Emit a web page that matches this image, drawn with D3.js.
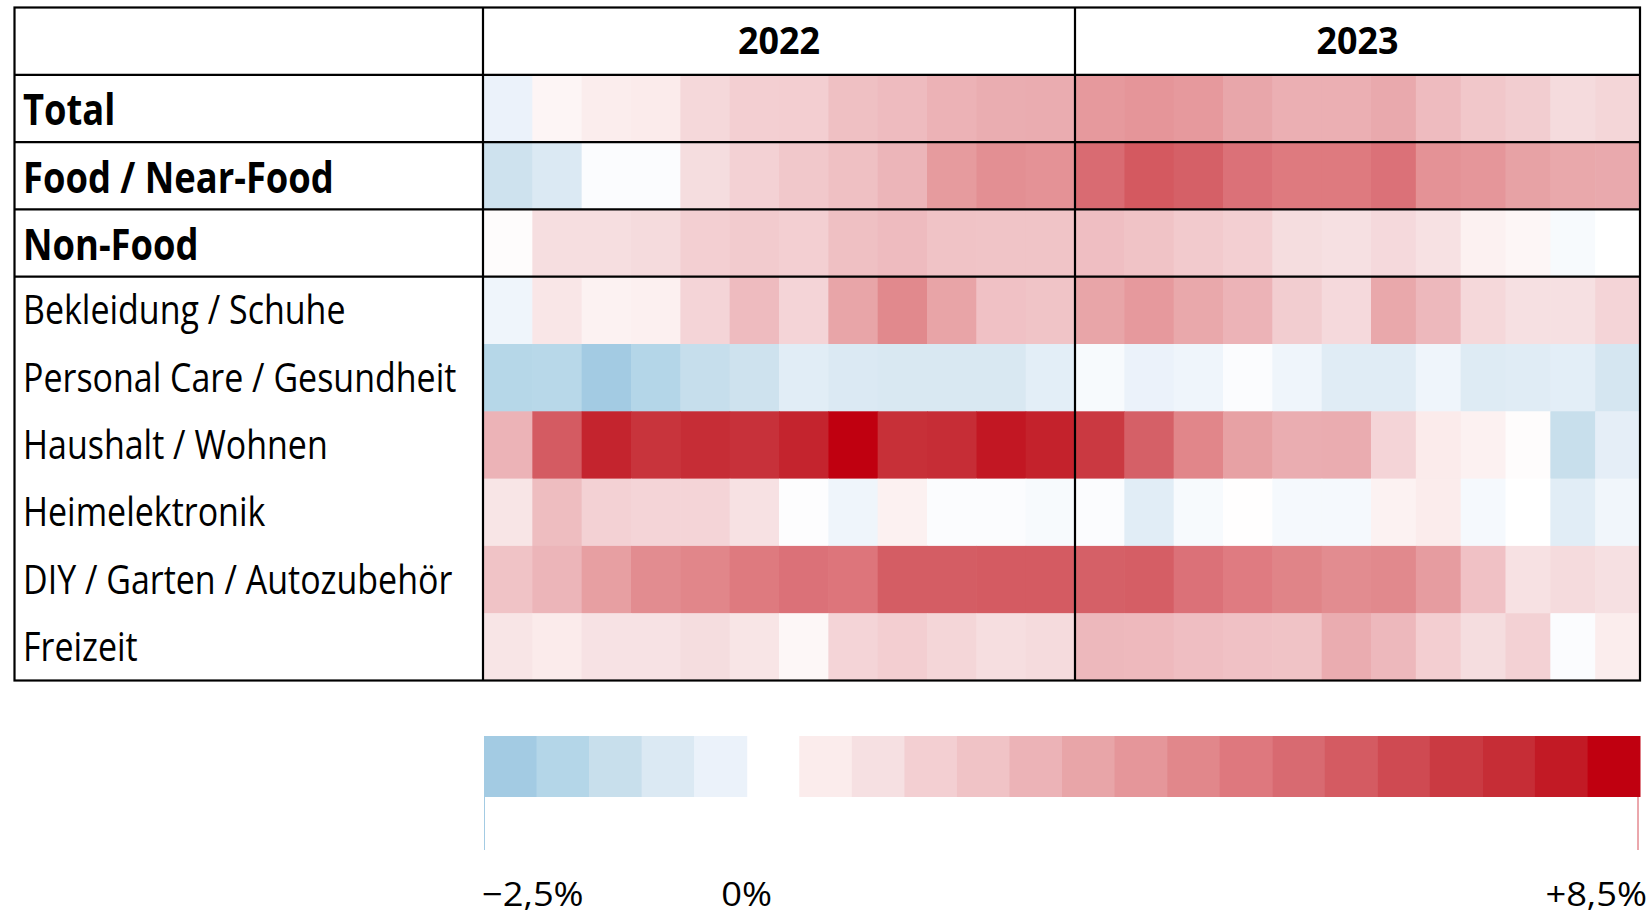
<!DOCTYPE html>
<html>
<head>
<meta charset="utf-8">
<script src="https://cdn.jsdelivr.net/npm/d3@7"></script>
<style>
  body { margin: 0; background: #fff; }
  svg text { font-family: "Open Sans", "Noto Sans", sans-serif; fill: #000; }
</style>
</head>
<body>
<div id="chart"></div>
<script>
// categories (rows) and columns
var categories = ["Total", "Food / Near-Food", "Non-Food", "Bekleidung / Schuhe",
  "Personal Care / Gesundheit", "Haushalt / Wohnen", "Heimelektronik",
  "DIY / Garten / Autozubehör", "Freizeit"];
var boldRows = ["Total", "Food / Near-Food", "Non-Food"];
var years = ["2022", "2023"];
var months = ["1", "2", "3", "4", "5", "6", "7", "8", "9", "10", "11", "12"];

// monthly values in %, Jan 2022 .. Dec 2023
var valTotal = [-0.25, 0.4, 0.7, 0.8, 1.5, 1.75, 1.8, 2.35, 2.5, 2.8, 2.95, 3.0,
  3.65, 3.8, 3.65, 3.2, 2.9, 2.9, 3.1, 2.5, 2.1, 1.85, 1.4, 1.55];
var valFood = [-1.1, -0.75, -0.05, -0.05, 1.35, 1.7, 2.05, 2.35, 2.7, 3.6, 4.0, 3.9,
  5.2, 5.8, 5.6, 5.0, 4.7, 4.7, 5.0, 3.9, 3.75, 3.35, 3.15, 3.1];
var valNonFood = [0.1, 1.3, 1.3, 1.4, 1.75, 1.9, 1.75, 2.35, 2.5, 2.25, 2.2, 2.2,
  2.4, 2.25, 1.95, 1.75, 1.35, 1.25, 1.45, 1.2, 0.55, 0.35, -0.1, 0.0];
var valBekleidung = [-0.2, 1.0, 0.5, 0.6, 1.6, 2.5, 1.6, 3.25, 4.2, 3.3, 2.3, 2.2,
  3.25, 3.65, 3.15, 2.75, 1.85, 1.45, 3.15, 2.6, 1.5, 1.25, 1.25, 1.6];
var valPersonal = [-1.7, -1.65, -2.25, -1.75, -1.3, -1.1, -0.55, -0.75, -0.8, -0.8, -0.8, -0.5,
  -0.1, -0.25, -0.2, -0.05, -0.2, -0.6, -0.6, -0.2, -0.65, -0.6, -0.5, -0.9];
var valHaushalt = [2.75, 5.75, 7.5, 7.0, 7.25, 7.1, 7.5, 8.4, 7.15, 7.25, 7.8, 7.55,
  6.8, 5.6, 4.3, 3.4, 2.95, 3.0, 1.6, 0.8, 0.55, 0.1, -1.25, -0.45];
var valHeimelektronik = [1.05, 2.45, 1.7, 1.6, 1.6, 1.2, -0.03, -0.2, 0.55, -0.05, -0.05, -0.1,
  -0.05, -0.55, -0.1, 0.05, -0.12, -0.12, 0.5, 0.75, -0.12, 0.0, -0.55, -0.18];
var valDiy = [2.25, 2.7, 3.45, 4.1, 4.3, 4.7, 5.0, 4.85, 5.7, 5.7, 5.75, 5.75,
  5.6, 5.65, 5.0, 4.65, 4.35, 4.1, 4.2, 3.55, 2.3, 1.2, 1.4, 1.25];
var valFreizeit = [1.05, 0.8, 1.15, 1.15, 1.35, 1.05, 0.3, 1.6, 1.8, 1.55, 1.3, 1.4,
  2.6, 2.55, 2.4, 2.3, 2.25, 3.0, 2.6, 1.8, 1.35, 1.7, -0.05, 0.7];

var rowValues = [valTotal, valFood, valNonFood, valBekleidung, valPersonal,
  valHaushalt, valHeimelektronik, valDiy, valFreizeit];

// legend
var legendMin = -2.5, legendMax = 8.5, legendStep = 0.5;
var legendTicks = [-2.5, 0, 8.5];
var legendLabels = ["\u22122,5%", "0%", "+8,5%"];

// colour ramp (value -> colour)
var colorStops = [-2.25, -1.75, -1.25, -0.75, -0.25, 0,
  0.75, 1.25, 1.75, 2.25, 2.75, 3.25, 3.75, 4.25, 4.75, 5.25, 5.75, 6.25, 6.75, 7.25, 7.75, 8.25];
var colorRange = ["#a3cbe3", "#b4d6e8", "#c8dfec", "#dbe9f3", "#ebf2fa", "#ffffff",
  "#fbecec", "#f6e0e2", "#f3cfd2", "#f0c3c6", "#ecb3b7", "#e8a5a8", "#e5969a", "#e1878b",
  "#de787e", "#d86a71", "#d45b62", "#cf4a52", "#ca3a42", "#c62d36", "#c21a25", "#c00010"];

var W = 1649, H = 918;
var tbl = { left: 14.5, label: 483, split: 1075, right: 1640, top: 7.5, bottom: 680.5 };

var color = d3.scaleLinear().domain(colorStops).range(colorRange).clamp(true);

var yScale = d3.scaleBand().domain(["header"].concat(categories)).range([tbl.top, tbl.bottom]);
// column index (0..24) -> x ; the 2023 half-years are not quite equal in the original
var xScale = d3.scaleLinear().domain([0, 12, 18, 24]).range([tbl.label, tbl.split, 1371, tbl.right]);

var svg = d3.select("#chart").append("svg").attr("width", W).attr("height", H);

// cells
var cells = [];
categories.forEach(function (cat, r) {
  rowValues[r].forEach(function (v, i) {
    cells.push({ cat: cat, col: i, year: years[Math.floor(i / 12)], month: months[i % 12], value: v });
  });
});

svg.append("g").selectAll("rect").data(cells).enter().append("rect")
  .attr("x", function (d) { return xScale(d.col); })
  .attr("y", function (d) { return yScale(d.cat); })
  .attr("width", function (d) { return xScale(d.col + 1) - xScale(d.col) + 0.6; })
  .attr("height", yScale.bandwidth() + 0.6)
  .attr("fill", function (d) { return color(d.value); });

// grid lines
var grid = svg.append("g").attr("stroke", "#000").attr("stroke-width", 2.2).attr("fill", "none");
grid.append("rect")
  .attr("x", tbl.left).attr("y", tbl.top)
  .attr("width", tbl.right - tbl.left).attr("height", tbl.bottom - tbl.top);
[tbl.label, tbl.split].forEach(function (x) {
  grid.append("line").attr("x1", x).attr("x2", x).attr("y1", tbl.top).attr("y2", tbl.bottom);
});
boldRows.concat([categories[boldRows.length]]).forEach(function (cat) {
  var y = yScale(cat);
  grid.append("line").attr("x1", tbl.left).attr("x2", tbl.right).attr("y1", y).attr("y2", y);
});

// header
var headerMid = yScale("header") + yScale.bandwidth() / 2;
years.forEach(function (yr, k) {
  var cx = (xScale(k * 12) + xScale(k * 12 + 12)) / 2;
  svg.append("text")
    .attr("transform", "translate(" + cx + "," + (headerMid + 13) + ") scale(0.97,1)")
    .attr("text-anchor", "middle")
    .attr("font-size", 37).attr("font-weight", 700)
    .text(yr);
});

// row labels
categories.forEach(function (cat) {
  var bold = boldRows.indexOf(cat) >= 0;
  var mid = yScale(cat) + yScale.bandwidth() / 2;
  svg.append("text")
    .attr("transform", "translate(23," + (mid + (bold ? 17 : 14)) + ") scale(" + (bold ? 0.845 : 0.86) + ",1)")
    .attr("font-size", bold ? 43 : 39.5)
    .attr("font-weight", bold ? 700 : 400)
    .text(cat);
});

// legend
var lx = d3.scaleLinear().domain([legendMin, legendMax]).range([484, 1640]);
var legTop = 736, legBottom = 797;
var bins = d3.range(legendMin, legendMax, legendStep).filter(function (b) { return b !== 0; });
svg.append("g").selectAll("rect").data(bins).enter().append("rect")
  .attr("x", function (d) { return lx(d); })
  .attr("y", legTop)
  .attr("width", lx(legendStep) - lx(0) + 0.5)
  .attr("height", legBottom - legTop)
  .attr("fill", function (d) { return color(d + legendStep / 2); });

svg.append("line").attr("x1", lx(legendMin) + 0.5).attr("x2", lx(legendMin) + 0.5)
  .attr("y1", legBottom).attr("y2", 850).attr("stroke", "#a3cbe3").attr("stroke-width", 1);
svg.append("line").attr("x1", lx(legendMax) - 2).attr("x2", lx(legendMax) - 2)
  .attr("y1", legBottom).attr("y2", 850).attr("stroke", "#d8505a").attr("stroke-width", 1);

legendTicks.forEach(function (t, i) {
  var last = legendTicks.length - 1;
  var anchor = i === 0 ? "start" : (i === last ? "end" : "middle");
  var x = lx(t) + (i === 0 ? -2 : (i === last ? 7 : 0));
  svg.append("text")
    .attr("transform", "translate(" + x + ",906) scale(1.1,1)")
    .attr("text-anchor", anchor)
    .attr("font-size", 33)
    .text(legendLabels[i]);
});
</script>
</body>
</html>
